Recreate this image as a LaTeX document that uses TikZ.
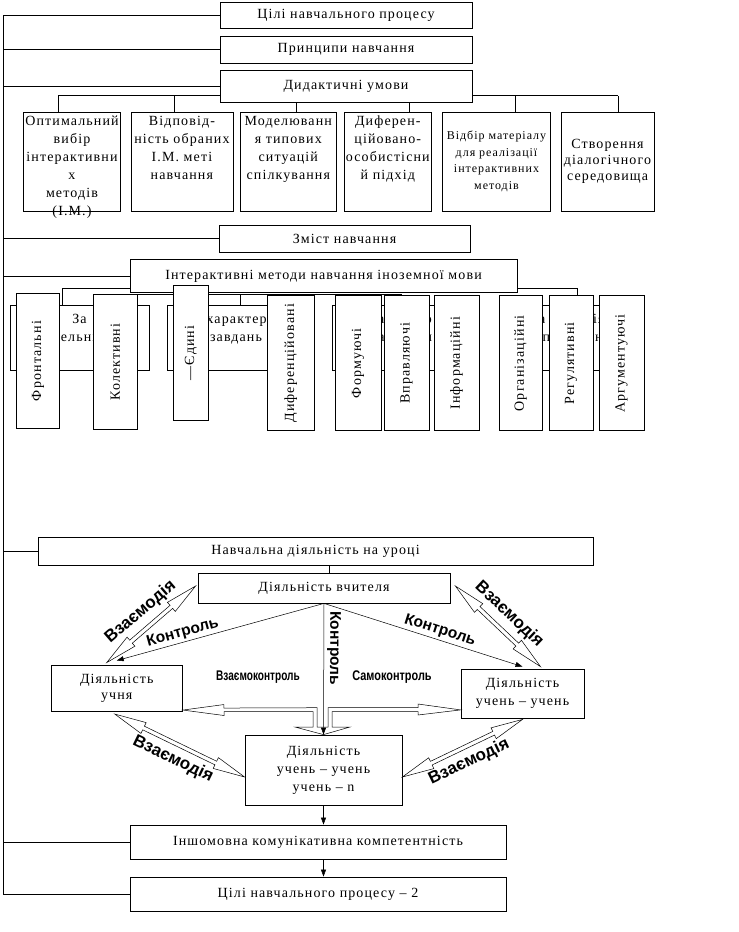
\documentclass[tikz,border=0pt]{standalone}
\usepackage{fontspec}
\setmainfont{Liberation Serif}
\newfontfamily\widefont[LetterSpace=8]{Liberation Serif}
\newfontfamily\artfont{Liberation Sans}
\usetikzlibrary{calc,arrows.meta}

% hollow two-headed arrow between two points
\newcommand\hollowlink[2]{%
  \draw[hollowarr] (#1) -- ($(#1)!32pt!(#2)!6pt!90:(#2)$) -- ($(#1)!32pt!(#2)!2pt!90:(#2)$)
    -- ($(#2)!32pt!(#1)!2pt!-90:(#1)$) -- ($(#2)!32pt!(#1)!6pt!-90:(#1)$) -- (#2)
    -- ($(#2)!32pt!(#1)!6pt!90:(#1)$) -- ($(#2)!32pt!(#1)!2pt!90:(#1)$)
    -- ($(#1)!32pt!(#2)!2pt!-90:(#2)$) -- ($(#1)!32pt!(#2)!6pt!-90:(#2)$) -- cycle;}

\tikzset{
  box/.style={draw, fill=white, inner sep=1pt, align=center,
    font=\widefont\fontsize{14}{18}\selectfont},
  sz/.style 2 args={minimum width=#1pt, minimum height=#2pt},
  vbox/.style={box, rotate=90, minimum width=135pt},
  grp/.style={box, minimum height=65pt},
  btxt/.style={anchor=north, yshift=-3pt, align=center, inner sep=1pt,
    font=\widefont\fontsize{14}{18}\selectfont},
  gtxt/.style={anchor=north, yshift=-8pt, align=center, inner sep=1pt,
    font=\widefont\fontsize{14}{18}\selectfont},
  hollowarr/.style={draw, fill=white, line width=.5pt},
  arr/.style={line width=.5pt, -{Triangle[length=7pt,width=5pt]}},
  ctrl/.style={font=\artfont\bfseries\fontsize{15.5}{15.5}\selectfont, inner sep=1pt},
  selfctrl/.style={font=\artfont\bfseries\fontsize{14}{14}\selectfont, inner sep=1pt},
  wa/.style={font=\artfont\bfseries\fontsize{17}{17}\selectfont, inner sep=1pt},
}

\begin{document}
\begin{tikzpicture}[x=1pt, y=-1pt, line width=.8pt]
  \useasboundingbox (0,0) rectangle (739,932);
  % didactic conditions
  \path
    (72,161.5) node[box, sz={97}{99}, label={[btxt]north:{Оптимальний\\вибір\\інтерактивни\\х\\методів\\(І.М.)}}] (c1) {}
    (181.9,161.5) node[box, sz={102}{99}, label={[btxt]north:{Відповід-\\ність обраних\\І.М. меті\\навчання}}] (c2) {}
    (288.3,161.5) node[box, sz={95.5}{99}, label={[btxt]north:{Моделюванн\\я типових\\ситуацій\\спілкування}}] (c3) {}
    (387.8,161.5) node[box, sz={87.6}{99}, label={[btxt]north:{Диферен-\\ційовано-\\особистісни\\й підхід}}] (c4) {}
    (496.5,161.5) node[box, sz={108}{99}, font=\widefont\fontsize{12}{16.5}\selectfont] (c5) {Відбір матеріалу\\для реалізації\\інтерактивних\\методів}
    (607.5,161.5) node[box, sz={93}{99}, font=\widefont\fontsize{14}{16}\selectfont] (c6) {Створення\\діалогічного\\середовища};
  \draw ([xshift=-14pt,yshift=16pt]c1.north) -- ([xshift=10.5pt,yshift=16pt]c6.north);
  \foreach \n/\d in {c1/-14,c2/-8,c3/8,c4/22,c5/19,c6/10.5}
    \draw ([xshift=\d pt]\n.north) -- ++(0,-16);

  \path
    (346,15) node[box, sz={252}{26}] (goal) {Цілі навчального процесу}
    (346,49.5) node[box, sz={252}{27}] (princ) {Принципи навчання}
    (346,86) node[box, sz={252}{32}] (cond) {Дидактичні умови}
    (344.5,238.5) node[box, sz={251}{27}] (cont) {Зміст навчання}
    (323.5,276) node[box, sz={387}{33}] (imeth) {Інтерактивні методи навчання іноземної мови};

  % groups of methods
  \draw ([yshift=5pt]imeth.south west) -| ++(-67,17.3);
  \draw ([yshift=-1.5pt]imeth.south west) -| (401,305);
  \draw (240,305) -- ++(0,-11);
  \draw ([yshift=5pt]imeth.south east) -| (577,305);
  \path
    (79.5,337.5) node[grp, minimum width=139pt, label={[gtxt]north:{За\\чисельністю}}] (gA) {}
    (236,337.5) node[grp, minimum width=138pt, label={[gtxt]north:{За характером\\завдань}}] (gB) {}
    (401,337.5) node[grp, minimum width=138pt, label={[gtxt]north:{За метою\\навчання}}] (gC) {}
    (577,337.5) node[grp, minimum width=130pt, label={[gtxt]north:{За функціями\\спілкування}}] (gD) {};

  \path
    (38,361) node[vbox, minimum height=43pt] (fr) {Фронтальні}
    (115.3,362) node[vbox, minimum height=44pt] (kol) {Колективні}
    (190.8,353) node[vbox, minimum height=35pt] (yed) {—Єдині}
    (290.7,363.3) node[vbox, minimum height=47pt] (dyf) {Диференційовані}
    (358,363.3) node[vbox, minimum height=46pt] (form) {Формуючі}
    (406.5,363.3) node[vbox, minimum height=45pt] (vpr) {Вправляючі}
    (456.5,363.3) node[vbox, minimum height=45pt] (inf) {Інформаційні}
    (520.5,363.3) node[vbox, minimum height=43pt] (org) {Організаційні}
    (571,363.3) node[vbox, minimum height=44pt] (reg) {Регулятивні}
    (621.5,363.3) node[vbox, minimum height=45pt] (arg) {Аргументуючі};

  % lesson activity
  \path
    (315.5,551) node[box, sz={555}{28}] (learn) {Навчальна діяльність на уроці}
    (324,588) node[box, sz={252}{30}] (teach) {Діяльність вчителя}
    (116.75,688.3) node[box, sz={131.5}{46.7}, font=\widefont\fontsize{14}{16}\selectfont] (pupil) {Діяльність\\учня}
    (522.5,693.5) node[box, sz={123}{49}] (pair) {Діяльність\\учень – учень}
    (323.5,770) node[box, sz={157}{70}] (grpw) {Діяльність\\учень – учень\\учень – n}
    (318,842) node[box, sz={376}{34}] (comp) {Іншомовна комунікативна компетентність}
    (318,894) node[box, sz={376}{34}] (goal2) {Цілі навчального процесу – 2};

  \coordinate (spine) at (3,0);
  \draw (goal.west) -- (goal.west -| spine) -- (goal2.west -| spine) -- (goal2.west);
  \foreach \n in {princ,cond,cont,imeth,learn,comp}
    \draw (\n.west) -- (\n.west -| spine);
  \draw ([xshift=5pt]teach.north |- learn.south) -- ([xshift=5pt]teach.north);

  % interaction
  \coordinate (w1a) at ([xshift=-10pt,yshift=2pt]pupil.north);
  \coordinate (w1b) at ([xshift=-2pt,yshift=2pt]teach.west);
  \coordinate (w2a) at ([xshift=5pt,yshift=2pt]teach.east);
  \coordinate (w2b) at ([xshift=18pt,yshift=2pt]pair.north);
  \coordinate (w3a) at ([xshift=-2pt,yshift=-2pt]pupil.south);
  \coordinate (w3b) at ([yshift=-7pt]grpw.west);
  \coordinate (w4a) at ([yshift=-7pt]grpw.east);
  \coordinate (w4b) at ([yshift=-1pt]pair.south);
  \hollowlink{w1a}{w1b}
  \hollowlink{w2a}{w2b}
  \hollowlink{w3a}{w3b}
  \hollowlink{w4a}{w4b}
  \path (w1a) -- node[wa, sloped, above=7pt] {Взаємодія} (w1b);
  \path (w2a) -- node[wa, sloped, above=7pt] {Взаємодія} (w2b);
  \path (w3a) -- node[wa, sloped, below=6pt] {Взаємодія} (w3b);
  \path (w4a) -- node[wa, sloped, below=6pt] {Взаємодія} (w4b);

  \draw[hollowarr] ([yshift=2pt]pupil.south east) -- ++(41,-5.5) -- ++(0,3.5) -- (317,707.7) -- (317,727)
    -- (328,727) -- (328,707.7) -- (418,707.7) -- (418,704) -- ([yshift=8.5pt]pair.south west)
    -- (418,715) -- (418,711.7) -- (332,711.7) -- (332,727) -- (350,727) -- (grpw.north)
    -- (295,727) -- (313,727) -- (313,711.7) -- (224,711.7) -- (224,715.5) -- cycle;

  \begin{scope}[arr]
    \draw (teach.south) -- node[ctrl, sloped, above=1pt, pos=.67] {Контроль} ([yshift=4pt]pupil.north);
    \draw (teach.south) -- node[ctrl, sloped, above=1pt, pos=.57] {Контроль} ([yshift=2pt]pair.north);
    \draw (teach.south) -- node[ctrl, sloped, allow upside down, above=2pt, pos=.34] {Контроль} (grpw.north);
    \draw (grpw.south) -- (comp.north -| grpw.south);
    \draw (comp.south -| grpw.south) -- (goal2.north -| grpw.south);
  \end{scope}
  \path
    (258,677) node[selfctrl] (mutual) {\scalebox{.72}[1]{Взаємоконтроль}}
    (392,677) node[selfctrl] (self) {\scalebox{.78}[1]{Самоконтроль}};
\end{tikzpicture}
\end{document}
